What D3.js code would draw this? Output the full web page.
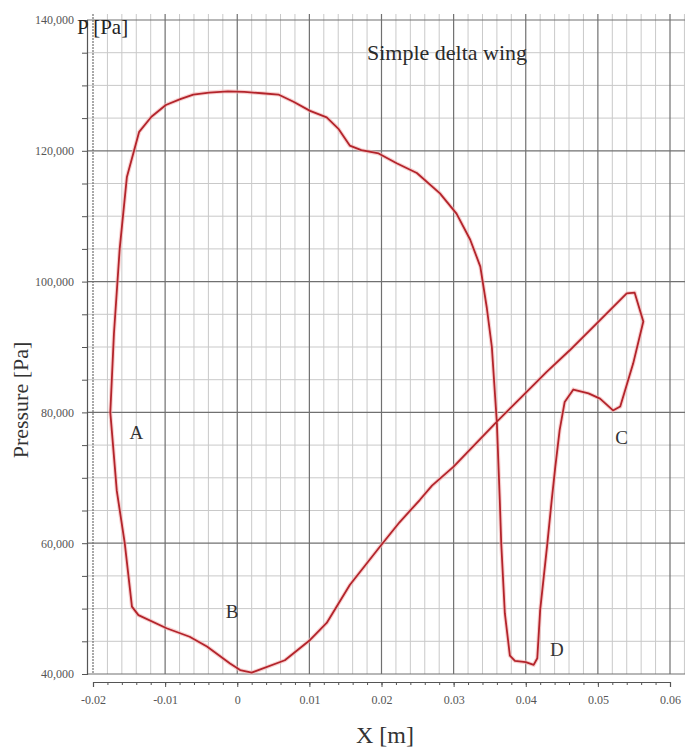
<!DOCTYPE html>
<html>
<head>
<meta charset="utf-8">
<script src="https://cdnjs.cloudflare.com/ajax/libs/d3/7.8.5/d3.min.js"></script>
<style>
  body { margin: 0; background: #fff; }
  svg text { font-family: "Liberation Serif", "DejaVu Serif", serif; }
</style>
</head>
<body>
<div id="chart"></div>
<script>
// tick values
var xTickValues = [-0.02, -0.01, 0, 0.01, 0.02, 0.03, 0.04, 0.05, 0.06];
var xTickLabels = ["-0.02", "-0.01", "0", "0.01", "0.02", "0.03", "0.04", "0.05", "0.06"];
var yTickValues = [40000, 60000, 80000, 100000, 120000, 140000];
var yTickLabels = ["40,000", "60,000", "80,000", "100,000", "120,000", "140,000"];

// closed pressure loop (X in m, P in Pa)
var curveX = [-0.0176, -0.0171, -0.0163, -0.0153, -0.0136, -0.0119, -0.0099, -0.0079, -0.0061, -0.0039,
  -0.0013, 0.0010, 0.0034, 0.0057, 0.0078, 0.0101, 0.0124, 0.0140, 0.0156, 0.0172,
  0.0196, 0.0221, 0.0249, 0.0281, 0.0304, 0.0323, 0.0337, 0.0346, 0.0353, 0.0360,
  0.0364, 0.0366, 0.0371, 0.0378, 0.0385, 0.0400, 0.0411, 0.0416, 0.0420, 0.0430,
  0.0436, 0.0441, 0.0447, 0.0454, 0.0466, 0.0487, 0.0503, 0.0521, 0.0531, 0.0549,
  0.0563, 0.0551, 0.0540, 0.0503, 0.0461, 0.0429, 0.0411, 0.0360, 0.0300, 0.0270,
  0.0253, 0.0225, 0.0198, 0.0156, 0.0124, 0.0101, 0.0066, 0.0020, 0.0004, -0.0010,
  -0.0042, -0.0066, -0.0098, -0.0137, -0.0146, -0.0156, -0.0167];
var curveP = [80000, 92000, 105000, 116000, 122900, 125200, 127000, 127900, 128600, 128900,
  129100, 129000, 128800, 128600, 127500, 126100, 125100, 123400, 120800, 120100,
  119600, 118100, 116600, 113500, 110400, 106400, 102300, 96000, 90000, 78300,
  66600, 60000, 49300, 42800, 42000, 41800, 41400, 42400, 49800, 60000,
  66600, 71700, 77300, 81600, 83500, 82900, 82100, 80300, 80900, 87500,
  93900, 98300, 98200, 94100, 89500, 86200, 84200, 78600, 71700, 68800,
  66600, 63200, 59500, 53600, 47800, 45200, 42100, 40200, 40600, 41600,
  44200, 45700, 47000, 49000, 50300, 60000, 68000];

// point letters
var markNames = ["A", "B", "C", "D"];
var markX = [-0.0140, -0.0007, 0.0533, 0.0443];
var markP = [77000, 49600, 76200, 43700];

var W = 685, H = 751;
var svg = d3.select("#chart").append("svg")
  .attr("width", W).attr("height", H);

var x = d3.scaleLinear().domain([-0.02, 0.06]).range([93, 670]);
var y = d3.scaleLinear().domain([40000, 140000]).range([674, 20]);

// grid
var grid = svg.append("g");
var minorX = d3.range(-0.018, 0.0625, 0.002).filter(function(d){ return Math.abs(d*100 - Math.round(d*100)) > 1e-6; });
grid.selectAll(".vminor").data(minorX).enter().append("line")
  .attr("x1", function(d){ return x(d); }).attr("x2", function(d){ return x(d); })
  .attr("y1", 14).attr("y2", y(40000))
  .attr("stroke", "#c9c9c9").attr("stroke-width", 1);
var minorY = y.ticks(20).filter(function(d){ return d % 20000 !== 0; });
grid.selectAll(".hminor").data(minorY).enter().append("line")
  .attr("x1", 87).attr("x2", W)
  .attr("y1", function(d){ return y(d); }).attr("y2", function(d){ return y(d); })
  .attr("stroke", "#c9c9c9").attr("stroke-width", 1);
grid.selectAll(".hmajor").data(yTickValues).enter().append("line")
  .attr("x1", 87).attr("x2", W)
  .attr("y1", function(d){ return y(d); }).attr("y2", function(d){ return y(d); })
  .attr("stroke", "#707070").attr("stroke-width", 1.2);
grid.selectAll(".vmajor").data(xTickValues).enter().append("line")
  .attr("x1", function(d){ return x(d); }).attr("x2", function(d){ return x(d); })
  .attr("y1", 14).attr("y2", y(40000))
  .attr("stroke", "#707070").attr("stroke-width", 1.2)
  .attr("stroke-dasharray", function(d, i){ return i === 0 ? "2,1" : null; });

// y axis
var yAxis = d3.axisLeft(y).tickValues(yTickValues)
  .tickFormat(function(d, i){ return yTickLabels[i]; }).tickSize(5).tickPadding(8);
var gy = svg.append("g").attr("transform", "translate(87,0)").call(yAxis);
svg.append("g").attr("transform", "translate(87,0)")
  .call(d3.axisLeft(y).tickValues(minorY).tickSize(5).tickFormat(""))
  .select(".domain").remove();

// x axis
var xAxis = d3.axisBottom(x).tickValues(xTickValues)
  .tickFormat(function(d, i){ return xTickLabels[i]; }).tickSize(5).tickPadding(8);
var gx = svg.append("g").attr("transform", "translate(0,682)").call(xAxis);
svg.append("g").attr("transform", "translate(0,682)")
  .call(d3.axisBottom(x).tickValues(d3.range(-0.018, 0.06, 0.002)).tickSize(3).tickFormat(""))
  .select(".domain").remove();

svg.selectAll(".domain").attr("stroke", "#555").attr("stroke-width", 1.2);
svg.selectAll(".tick line").attr("stroke", "#555");
svg.selectAll(".tick text").attr("fill", "#555")
  .style("font-family", "'Liberation Serif', serif").style("font-size", "12px");

// curve
var pts = curveX.map(function(d, i){ return [d, curveP[i]]; });
var line = d3.line().x(function(d){ return x(d[0]); }).y(function(d){ return y(d[1]); })
  .curve(d3.curveLinearClosed);
svg.append("path").datum(pts).attr("d", line)
  .attr("fill", "none").attr("stroke", "#f3b3b3").attr("stroke-width", 4).attr("opacity", 0.6);
svg.append("path").datum(pts).attr("d", line)
  .attr("fill", "none").attr("stroke", "#b3242b").attr("stroke-width", 1.8)
  .attr("stroke-linejoin", "round");

// letters
svg.selectAll(".mark").data(markNames).enter().append("text")
  .attr("x", function(d, i){ return x(markX[i]); })
  .attr("y", function(d, i){ return y(markP[i]); })
  .attr("text-anchor", "middle").attr("dominant-baseline", "central")
  .attr("font-size", 19).attr("fill", "#333")
  .text(function(d){ return d; });

// titles
svg.append("text").attr("x", 77).attr("y", 34).attr("font-size", 21).attr("fill", "#222").text("P [Pa]");
svg.append("text").attr("x", 367).attr("y", 60).attr("font-size", 22).attr("fill", "#2a2a2a").text("Simple delta wing");
svg.append("text").attr("transform", "translate(28,400) rotate(-90)")
  .attr("text-anchor", "middle").attr("font-size", 22).attr("fill", "#333").text("Pressure [Pa]");
svg.append("text").attr("x", 385).attr("y", 743).attr("text-anchor", "middle")
  .attr("font-size", 24).attr("fill", "#333").text("X [m]");
</script>
</body>
</html>
